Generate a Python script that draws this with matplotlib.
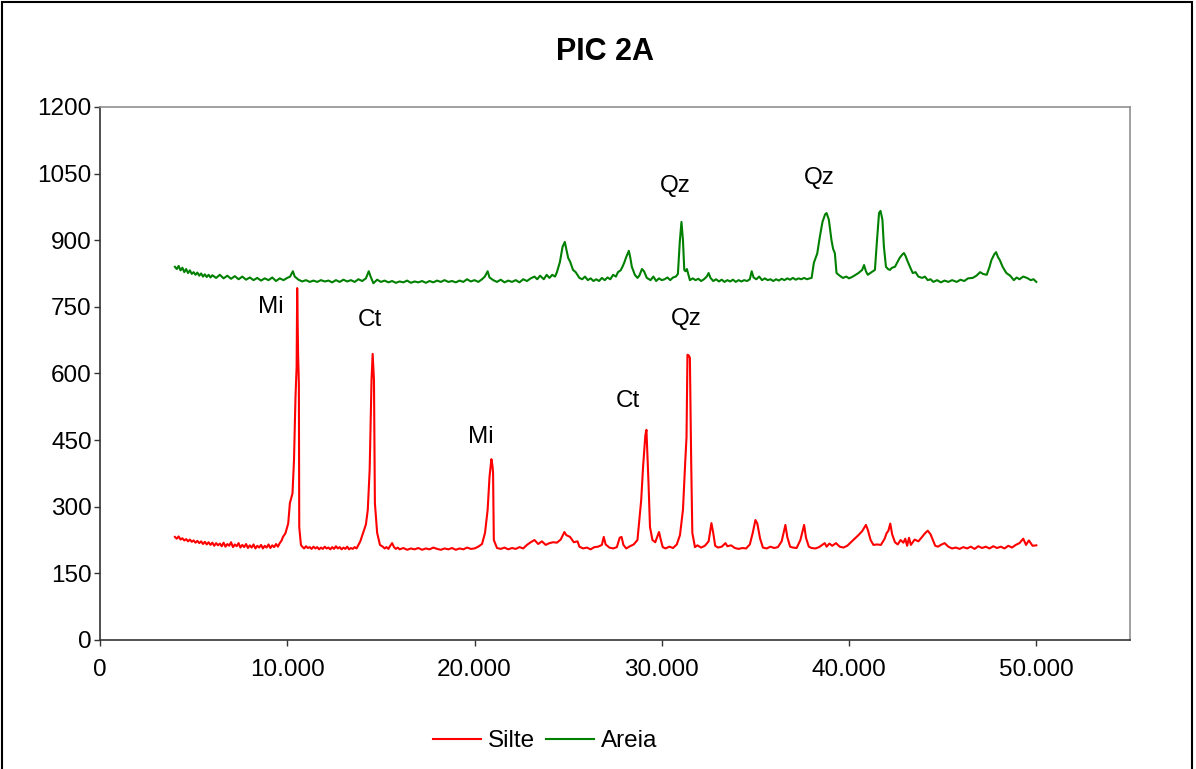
import matplotlib.pyplot as plt
from matplotlib.patches import Rectangle
from matplotlib.ticker import FuncFormatter

plt.rcParams['font.family'] = ['Liberation Sans', 'DejaVu Sans']

# Difratograma - fração silte
silte_2theta = [
    4.0, 4.1, 4.2, 4.3, 4.4, 4.5, 4.6, 4.7, 4.8, 4.9, 5.0, 5.1, 5.2, 5.3, 5.4, 5.5, 5.6, 5.7, 5.8, 5.9,
    6.0, 6.1, 6.2, 6.3, 6.4, 6.5, 6.6, 6.7, 6.8, 6.9, 7.0, 7.1, 7.2, 7.3, 7.4, 7.5, 7.6, 7.7, 7.8, 7.9,
    8.0, 8.1, 8.2, 8.3, 8.4, 8.5, 8.6, 8.7, 8.8, 8.9, 9.0, 9.1, 9.2, 9.3, 9.4, 9.5, 9.6, 9.7, 9.77, 9.9,
    10.05, 10.14, 10.28, 10.36, 10.44, 10.5, 10.53, 10.58, 10.62, 10.64, 10.73, 10.8, 10.9, 11.0, 11.1,
    11.2, 11.3, 11.4, 11.5, 11.6, 11.7, 11.8, 11.9, 12.0, 12.1, 12.2, 12.3, 12.4, 12.5, 12.6, 12.7, 12.8,
    12.9, 13.0, 13.1, 13.2, 13.3, 13.4, 13.5, 13.6, 13.7, 13.8, 13.9, 14.05, 14.2, 14.3, 14.4, 14.5,
    14.56, 14.63, 14.68, 14.8, 14.95, 15.1, 15.2, 15.3, 15.4, 15.5, 15.6, 15.7, 15.8, 15.9, 16.0, 16.2,
    16.4, 16.6, 16.8, 17.0, 17.2, 17.4, 17.6, 17.8, 18.0, 18.2, 18.4, 18.6, 18.8, 19.0, 19.2, 19.4, 19.6,
    19.8, 20.0, 20.2, 20.4, 20.56, 20.7, 20.8, 20.9, 20.95, 20.99, 21.03, 21.2, 21.4, 21.6, 21.8, 22.0,
    22.2, 22.4, 22.6, 22.8, 23.0, 23.2, 23.4, 23.6, 23.8, 24.0, 24.2, 24.4, 24.6, 24.8, 24.9, 25.1, 25.3,
    25.5, 25.6, 25.8, 26.0, 26.2, 26.4, 26.6, 26.8, 26.9, 27.0, 27.2, 27.4, 27.6, 27.75, 27.85, 27.95,
    28.1, 28.3, 28.5, 28.6, 28.7, 28.9, 29.0, 29.12, 29.18, 29.29, 29.37, 29.5, 29.65, 29.85, 29.95,
    30.05, 30.2, 30.4, 30.6, 30.8, 30.97, 31.13, 31.25, 31.32, 31.37, 31.45, 31.5, 31.57, 31.63, 31.77,
    31.9, 32.1, 32.3, 32.5, 32.65, 32.75, 32.85, 33.0, 33.2, 33.4, 33.5, 33.7, 33.9, 34.1, 34.3, 34.5,
    34.7, 34.85, 35.0, 35.1, 35.25, 35.4, 35.6, 35.8, 36.0, 36.2, 36.4, 36.6, 36.7, 36.85, 37.0, 37.2,
    37.4, 37.6, 37.7, 37.85, 38.0, 38.2, 38.4, 38.6, 38.7, 38.8, 38.95, 39.1, 39.3, 39.5, 39.7, 39.9,
    40.1, 40.3, 40.5, 40.7, 40.9, 41.0, 41.15, 41.3, 41.5, 41.7, 41.9, 42.0, 42.1, 42.2, 42.3, 42.45,
    42.6, 42.75, 42.9, 43.0, 43.1, 43.2, 43.3, 43.5, 43.7, 43.9, 44.05, 44.2, 44.35, 44.5, 44.6, 44.75,
    44.9, 45.1, 45.3, 45.5, 45.7, 45.9, 46.1, 46.3, 46.5, 46.7, 46.9, 47.1, 47.3, 47.5, 47.7, 47.9, 48.1,
    48.3, 48.5, 48.7, 48.9, 49.1, 49.3, 49.45, 49.6, 49.8, 50.0,
]
silte_counts = [
    232, 228, 233, 226, 229, 224, 227, 222, 226, 221, 224, 219, 223, 218, 222, 216, 221, 215, 220, 214,
    219, 212, 218, 213, 217, 211, 219, 210, 216, 212, 220, 209, 215, 211, 218, 208, 214, 209, 216, 207,
    213, 208, 215, 206, 212, 208, 214, 206, 212, 208, 215, 207, 213, 209, 216, 210, 218, 224, 232, 240,
    262, 308, 330, 405, 547, 615, 792, 640, 578, 254, 214, 210, 206, 211, 207,
    209, 205, 210, 206, 209, 204, 208, 205, 210, 206, 208, 204, 209, 205, 211, 206, 209,
    204, 208, 205, 210, 204, 207, 205, 209, 206, 214, 222, 241, 260, 293, 383, 585,
    644, 585, 308, 241, 214, 210, 206, 209, 205, 212, 218, 209, 205, 208, 204, 207,
    203, 206, 204, 207, 203, 206, 204, 208, 205, 203, 206, 204, 207, 203, 206, 204, 208,
    205, 206, 210, 216, 241, 293, 367, 407, 395, 376, 225, 207, 205, 208, 204, 207,
    205, 209, 206, 214, 220, 225, 216, 222, 214, 218, 220, 219, 226, 243, 236, 232, 220,
    222, 210, 206, 208, 204, 209, 210, 214, 232, 215, 208, 206, 209, 230, 232, 214,
    206, 211, 215, 220, 225, 315, 390, 460, 473, 353, 254, 225, 220, 243, 225,
    209, 206, 210, 207, 215, 236, 293, 400, 457, 642, 640, 635, 398, 241, 209,
    213, 208, 212, 222, 263, 240, 212, 208, 210, 218, 211, 213, 207, 205, 207, 206,
    215, 240, 270, 262, 228, 208, 206, 210, 207, 209, 222, 259, 232, 210, 208, 207,
    225, 259, 230, 210, 207, 206, 209, 215, 218, 210, 217, 212, 218, 210, 208, 212,
    220, 228, 236, 245, 259, 248, 225, 214, 215, 214, 228, 240, 246, 262, 238, 220,
    215, 225, 219, 228, 212, 230, 214, 226, 222, 232, 240, 246, 238, 222, 212, 210,
    214, 218, 210, 206, 208, 205, 209, 206, 210, 205, 211, 207, 210, 206, 211, 207, 210,
    206, 212, 208, 214, 218, 228, 214, 224, 212, 213,
]

# Difratograma - fração areia
areia_2theta = [
    4.0, 4.1, 4.2, 4.3, 4.4, 4.5, 4.6, 4.7, 4.8, 4.9, 5.0, 5.1, 5.2, 5.3, 5.4, 5.5, 5.6, 5.7, 5.8, 5.9,
    6.0, 6.2, 6.4, 6.6, 6.8, 7.0, 7.2, 7.4, 7.6, 7.8, 8.0, 8.2, 8.4, 8.6, 8.8, 9.0, 9.2, 9.4, 9.6, 9.8,
    10.0, 10.15, 10.3, 10.4, 10.6, 10.8, 11.0, 11.2, 11.4, 11.6, 11.8, 12.0, 12.2, 12.4, 12.6, 12.8,
    13.0, 13.2, 13.4, 13.6, 13.8, 14.0, 14.2, 14.35, 14.45, 14.6, 14.8, 15.0, 15.2, 15.4, 15.6, 15.8,
    16.0, 16.2, 16.4, 16.6, 16.8, 17.0, 17.2, 17.4, 17.6, 17.8, 18.0, 18.2, 18.4, 18.6, 18.8, 19.0,
    19.2, 19.4, 19.6, 19.8, 20.0, 20.2, 20.4, 20.55, 20.7, 20.8, 21.0, 21.2, 21.4, 21.6, 21.8, 22.0,
    22.2, 22.4, 22.6, 22.8, 23.0, 23.2, 23.35, 23.5, 23.7, 23.85, 24.0, 24.15, 24.3, 24.4, 24.56, 24.7,
    24.82, 24.9, 25.0, 25.1, 25.26, 25.4, 25.6, 25.75, 25.9, 26.05, 26.2, 26.35, 26.5, 26.65, 26.8,
    26.95, 27.1, 27.25, 27.4, 27.55, 27.66, 27.8, 27.9, 28.0, 28.1, 28.24, 28.32, 28.4, 28.56, 28.7,
    28.8, 28.94, 29.05, 29.2, 29.4, 29.55, 29.7, 29.85, 30.0, 30.15, 30.3, 30.45, 30.6, 30.75, 30.86,
    30.96, 31.05, 31.13, 31.2, 31.27, 31.34, 31.5, 31.65, 31.8, 31.95, 32.1, 32.25, 32.4, 32.5, 32.6,
    32.75, 32.9, 33.05, 33.2, 33.35, 33.5, 33.65, 33.8, 33.95, 34.1, 34.25, 34.4, 34.55, 34.7, 34.8,
    34.9, 35.05, 35.2, 35.35, 35.5, 35.65, 35.8, 35.95, 36.1, 36.25, 36.4, 36.55, 36.7, 36.85, 37.0,
    37.15, 37.3, 37.45, 37.6, 37.75, 37.9, 38.0, 38.12, 38.3, 38.44, 38.58, 38.72, 38.8, 38.92, 39.06,
    39.15, 39.24, 39.33, 39.5, 39.67, 39.85, 40.0, 40.2, 40.35, 40.5, 40.7, 40.8, 40.9, 41.0, 41.2,
    41.38, 41.5, 41.6, 41.68, 41.78, 41.86, 41.97, 42.08, 42.18, 42.3, 42.45, 42.6, 42.7, 42.85, 42.93,
    43.02, 43.1, 43.25, 43.4, 43.55, 43.7, 43.9, 44.05, 44.2, 44.35, 44.5, 44.7, 44.9, 45.1, 45.3,
    45.5, 45.75, 45.95, 46.15, 46.35, 46.6, 46.8, 47.0, 47.15, 47.35, 47.5, 47.6, 47.75, 47.85, 47.95,
    48.05, 48.2, 48.4, 48.6, 48.8, 48.95, 49.1, 49.3, 49.5, 49.7, 49.85, 50.0,
]
areia_counts = [
    840, 835, 842, 832, 838, 828, 835, 826, 832, 824, 828, 822, 827, 820, 825, 818, 823, 817, 822, 816,
    821, 815, 822, 814, 820, 813, 819, 812, 818, 811, 816, 810, 815, 809, 814, 810, 816, 808, 814, 810,
    815, 818, 830, 818, 811, 807, 810, 806, 809, 806, 810, 807, 809, 805, 810, 806,
    811, 807, 810, 806, 812, 808, 814, 830, 818, 803, 811, 806, 809, 805, 808, 804,
    807, 805, 809, 804, 807, 805, 808, 804, 808, 805, 809, 806, 810, 806, 808, 805,
    809, 806, 812, 807, 810, 806, 812, 818, 830, 816, 810, 806, 811, 805, 809, 806,
    810, 805, 812, 808, 814, 818, 812, 820, 812, 822, 815, 822, 818, 828, 851, 885,
    896, 880, 860, 852, 833, 828, 815, 812, 818, 810, 814, 808, 812, 808, 815,
    810, 816, 812, 822, 818, 828, 832, 840, 850, 862, 876, 860, 840, 822, 815,
    820, 835, 830, 815, 810, 818, 808, 814, 810, 812, 816, 810, 816, 818, 824,
    896, 941, 900, 833, 830, 835, 810, 814, 810, 813, 808, 812, 818, 826, 815,
    808, 812, 807, 811, 806, 810, 807, 811, 806, 810, 807, 810, 808, 812, 830,
    816, 812, 818, 810, 814, 810, 812, 808, 812, 809, 813, 810, 814, 811, 815,
    811, 814, 812, 815, 812, 814, 815, 849, 870, 908, 941, 958, 961, 946, 900,
    880, 871, 826, 820, 815, 818, 814, 818, 822, 826, 833, 844, 830, 822, 828,
    833, 905, 961, 966, 946, 885, 840, 835, 833, 838, 840, 852, 860, 868, 871,
    864, 855, 840, 826, 828, 818, 815, 818, 810, 812, 806, 810, 805, 809, 806,
    810, 806, 811, 808, 814, 815, 820, 828, 824, 822, 840, 855, 868, 873, 862,
    855, 840, 826, 820, 810, 816, 812, 818, 815, 810, 812, 806,
]

# Identificação dos picos (texto, 2θ, contagem)
rotulos = ["Mi", "Ct", "Mi", "Ct", "Qz", "Qz", "Qz"]
rotulos_x = [9.1, 14.4, 20.35, 28.2, 31.3, 30.7, 38.4]
rotulos_y = [750, 720, 457, 538, 723, 1022, 1040]

fig = plt.figure(figsize=(11.96, 7.69), dpi=100)
ax = fig.add_axes([0.0836, 0.1678, 0.8612, 0.6932])

ax.plot(silte_2theta, silte_counts, color="#ff0000", lw=1.5, label="Silte")
ax.plot(areia_2theta, areia_counts, color="#008000", lw=1.5, label="Areia")

for txt, xx, yy in zip(rotulos, rotulos_x, rotulos_y):
    ax.text(xx, yy, txt, fontsize=17.5, ha="center", va="center")

ax.set_xlim(0, 55)
ax.set_ylim(0, 1200)
ax.set_xticks([0, 10, 20, 30, 40, 50])
ax.set_yticks(range(0, 1201, 150))
ax.xaxis.set_major_formatter(FuncFormatter(lambda v, p: "0" if v == 0 else f"{v:.3f}"))
ax.tick_params(axis="both", labelsize=17.5, length=4.5, width=1, color="#333333", direction="out")
ax.tick_params(axis="x", pad=9)
ax.tick_params(axis="y", pad=1.5)

for lado in ["left", "bottom"]:
    ax.spines[lado].set_color("#333333")
    ax.spines[lado].set_linewidth(1.2)
for lado in ["top", "right"]:
    ax.spines[lado].set_color("#909090")
    ax.spines[lado].set_linewidth(1.2)

fig.text(0.506, 0.932, "PIC 2A", fontsize=22, fontweight="bold", ha="center", va="center")

fig.legend(loc="center", bbox_to_anchor=(0.456, 0.036), ncol=2, frameon=False,
           fontsize=17.5, handlelength=1.95, handletextpad=0.3, columnspacing=0.45)

# moldura externa do gráfico
fig.patches.append(Rectangle((0.002, -0.01), 0.995, 1.008, transform=fig.transFigure,
                             fill=False, edgecolor="black", lw=1.5))

fig.savefig("out.png", dpi=100)
